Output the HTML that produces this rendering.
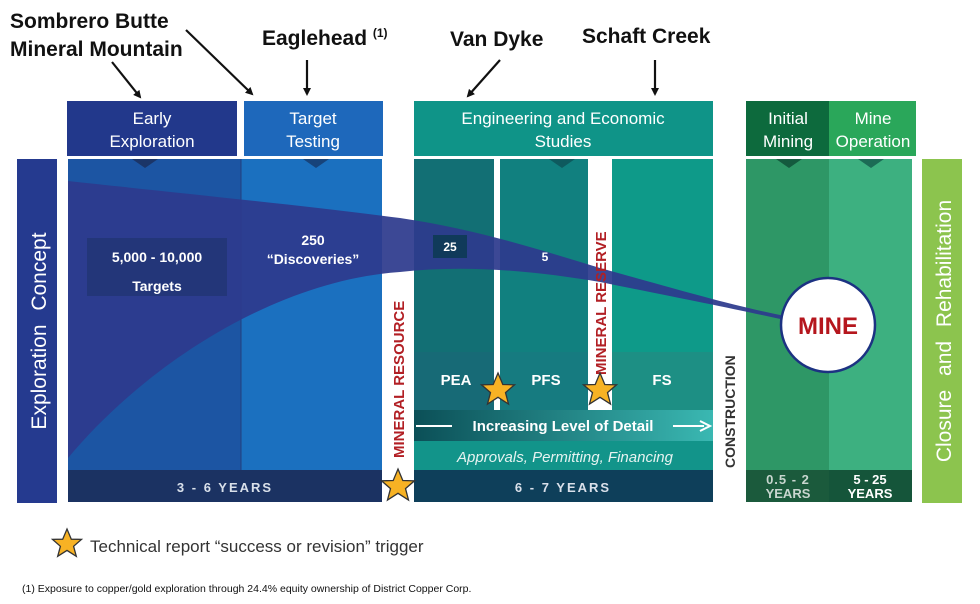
<!DOCTYPE html>
<html><head><meta charset="utf-8"><style>
html,body{margin:0;padding:0;background:#fff;}
svg{display:block;font-family:"Liberation Sans",Arial,sans-serif;}
</style></head><body>
<svg width="980" height="604" viewBox="0 0 980 604" xmlns="http://www.w3.org/2000/svg">
<defs>
<marker id="ah" markerWidth="8" markerHeight="8" refX="6" refY="4" orient="auto" markerUnits="userSpaceOnUse"><path d="M0,0 L8,4 L0,8 z" fill="#111"/></marker>
<linearGradient id="ild" x1="0" x2="1"><stop offset="0" stop-color="#0b4f57"/><stop offset="1" stop-color="#3ab8b2"/></linearGradient>
</defs>
<g font-weight="bold" fill="#111" font-size="21">
<text x="10" y="28">Sombrero Butte</text>
<text x="10" y="56">Mineral Mountain</text>
<text x="262" y="45">Eaglehead <tspan font-size="12" dy="-8">(1)</tspan></text>
<text x="450" y="46">Van Dyke</text>
<text x="582" y="43">Schaft Creek</text>
</g>
<g stroke="#111" stroke-width="2.2" marker-end="url(#ah)">
<line x1="186" y1="30" x2="252" y2="94"/>
<line x1="112" y1="62" x2="140" y2="97"/>
<line x1="307" y1="60" x2="307" y2="94"/>
<line x1="500" y1="60" x2="468" y2="96"/>
<line x1="655" y1="60" x2="655" y2="94"/>
</g>
<rect x="67" y="101" width="170" height="55" fill="#22388b"/>
<rect x="244" y="101" width="139" height="55" fill="#1e68bb"/>
<rect x="414" y="101" width="299" height="55" fill="#0f9488"/>
<rect x="746" y="101" width="83" height="55" fill="#0d6a3d"/>
<rect x="829" y="101" width="87" height="55" fill="#2aa75a"/>
<g fill="#fff" font-size="17" text-anchor="middle">
<text x="152" y="124">Early</text><text x="152" y="147">Exploration</text>
<text x="313" y="124">Target</text><text x="313" y="147">Testing</text>
<text x="563" y="124">Engineering and Economic</text><text x="563" y="147">Studies</text>
<text x="788" y="124">Initial</text><text x="788" y="147">Mining</text>
<text x="873" y="124">Mine</text><text x="873" y="147">Operation</text>
</g>
<rect x="17" y="159" width="40" height="344" fill="#253a8f"/>
<text transform="translate(46,331) rotate(-90)" fill="#fff" font-size="21" text-anchor="middle" word-spacing="8">Exploration Concept</text>
<rect x="922" y="159" width="40" height="344" fill="#8cc44e"/>
<text transform="translate(951,331) rotate(-90)" fill="#fff" font-size="21" text-anchor="middle" word-spacing="8">Closure and Rehabilitation</text>
<rect x="68" y="159" width="173" height="311" fill="#1c55a3"/>
<rect x="241" y="159" width="141" height="311" fill="#1b70bf"/>
<line x1="241" y1="159" x2="241" y2="470" stroke="#23407e" stroke-width="1"/>
<rect x="68" y="470" width="314" height="32" fill="#1b3262"/>
<text x="225" y="492" fill="#d9e0ea" font-size="13" font-weight="bold" text-anchor="middle" letter-spacing="2">3  -  6  YEARS</text>
<rect x="414" y="159" width="80" height="193" fill="#126f74"/>
<rect x="500" y="159" width="88" height="193" fill="#11807f"/>
<rect x="612" y="159" width="101" height="193" fill="#0e9a89"/>
<rect x="414" y="352" width="80" height="58" fill="#176a76"/>
<rect x="500" y="352" width="88" height="58" fill="#167b80"/>
<rect x="612" y="352" width="101" height="58" fill="#1d8f84"/>
<rect x="494" y="159" width="6" height="251" fill="#fff"/>
<rect x="588" y="159" width="24" height="251" fill="#fff"/>
<rect x="414" y="410" width="299" height="31" fill="url(#ild)"/>
<rect x="414" y="441" width="299" height="29" fill="#12948a"/>
<rect x="414" y="470" width="299" height="32" fill="#0e3f5a"/>
<text x="563" y="492" fill="#d9e0ea" font-size="13" font-weight="bold" text-anchor="middle" letter-spacing="2">6  -  7  YEARS</text>
<line x1="416" y1="426" x2="452" y2="426" stroke="#fff" stroke-width="2"/>
<text x="563" y="431" fill="#fff" font-size="15" font-weight="bold" text-anchor="middle">Increasing Level of Detail</text>
<line x1="673" y1="426" x2="704" y2="426" stroke="#fff" stroke-width="2"/>
<path d="M700,421 L710,426 L700,431" fill="none" stroke="#fff" stroke-width="2"/>
<text x="565" y="462" fill="#e6f3f1" font-size="15" font-style="italic" text-anchor="middle">Approvals, Permitting, Financing</text>
<g fill="#fff" font-size="15" font-weight="bold" text-anchor="middle">
<text x="456" y="385">PEA</text><text x="546" y="385">PFS</text><text x="662" y="385">FS</text>
</g>
<rect x="746" y="159" width="83" height="311" fill="#2e9766"/>
<rect x="829" y="159" width="83" height="311" fill="#3db080"/>
<rect x="746" y="470" width="83" height="32" fill="#1b5a3c"/>
<rect x="829" y="470" width="83" height="32" fill="#15553a"/>
<g font-size="13" font-weight="bold" text-anchor="middle">
<text x="788" y="484" fill="#c8d6cf" letter-spacing="1">0.5 - 2</text>
<text x="788" y="498" fill="#c8d6cf">YEARS</text>
<text x="870" y="484" fill="#fff">5 - 25</text>
<text x="870" y="498" fill="#fff">YEARS</text>
</g>
<g fill="#1b3568">
<path d="M132,159 L158,159 L145,168 z"/>
<path d="M303,159 L329,159 L316,168 z" fill="#17437a"/>
<path d="M549,159 L575,159 L562,168 z" fill="#0e5a5e"/>
<path d="M776,159 L802,159 L789,168 z" fill="#145a3e"/>
<path d="M858,159 L884,159 L871,168 z" fill="#1c6b55"/>
</g>
<path d="M68,181 C150,190 300,205 400,218 C480,230 540,250 600,268 C680,290 730,305 785,316 L785,320 C730,308 680,298 600,282 C540,272 470,264 400,272 C280,280 150,360 68,458 Z" fill="#2d3a8d" opacity="0.93"/>
<rect x="87" y="238" width="140" height="58" fill="#20336f" opacity="0.7"/>
<g fill="#fff" font-size="14" font-weight="bold" text-anchor="middle">
<text x="157" y="262">5,000 - 10,000</text>
<text x="157" y="291">Targets</text>
<text x="313" y="245">250</text>
<text x="313" y="264">“Discoveries”</text>
</g>
<rect x="433" y="235" width="34" height="23" fill="#103a5a"/>
<text x="450" y="251" fill="#fff" font-size="12" font-weight="bold" text-anchor="middle">25</text>
<text x="545" y="261" fill="#fff" font-size="12" font-weight="bold" text-anchor="middle">5</text>
<text transform="translate(404,458) rotate(-90)" fill="#b21f24" font-size="15" font-weight="bold">MINERAL RESOURCE</text>
<text transform="translate(606,375) rotate(-90)" fill="#b21f24" font-size="15" font-weight="bold">MINERAL RESERVE</text>
<text transform="translate(735,468) rotate(-90)" fill="#333" font-size="14" font-weight="bold">CONSTRUCTION</text>
<circle cx="828" cy="325" r="47" fill="#fff" stroke="#1c3282" stroke-width="2.5"/>
<text x="828" y="334" fill="#b5161d" font-size="24" font-weight="bold" text-anchor="middle">MINE</text>
<g fill="#f7b224" stroke="#333" stroke-width="1.3">
<path d="M0,-17 L4.8,-5.5 L16.5,-5.2 L7.5,2.6 L10.5,14 L0,7.3 L-10.5,14 L-7.5,2.6 L-16.5,-5.2 L-4.8,-5.5 Z" transform="translate(398,486)"/>
<path d="M0,-17 L4.8,-5.5 L16.5,-5.2 L7.5,2.6 L10.5,14 L0,7.3 L-10.5,14 L-7.5,2.6 L-16.5,-5.2 L-4.8,-5.5 Z" transform="translate(498,390)"/>
<path d="M0,-17 L4.8,-5.5 L16.5,-5.2 L7.5,2.6 L10.5,14 L0,7.3 L-10.5,14 L-7.5,2.6 L-16.5,-5.2 L-4.8,-5.5 Z" transform="translate(600,390)"/>
<path d="M0,-15 L4.3,-4.8 L14.5,-4.6 L6.6,2.3 L9.3,12.3 L0,6.4 L-9.3,12.3 L-6.6,2.3 L-14.5,-4.6 L-4.3,-4.8 Z" transform="translate(67,544)"/>
</g>
<text x="90" y="552" fill="#333" font-size="17">Technical report “success or revision” trigger</text>
<text x="22" y="592" fill="#111" font-size="10.5">(1) Exposure to copper/gold exploration through 24.4% equity ownership of District Copper Corp.</text>
</svg>
</body></html>
